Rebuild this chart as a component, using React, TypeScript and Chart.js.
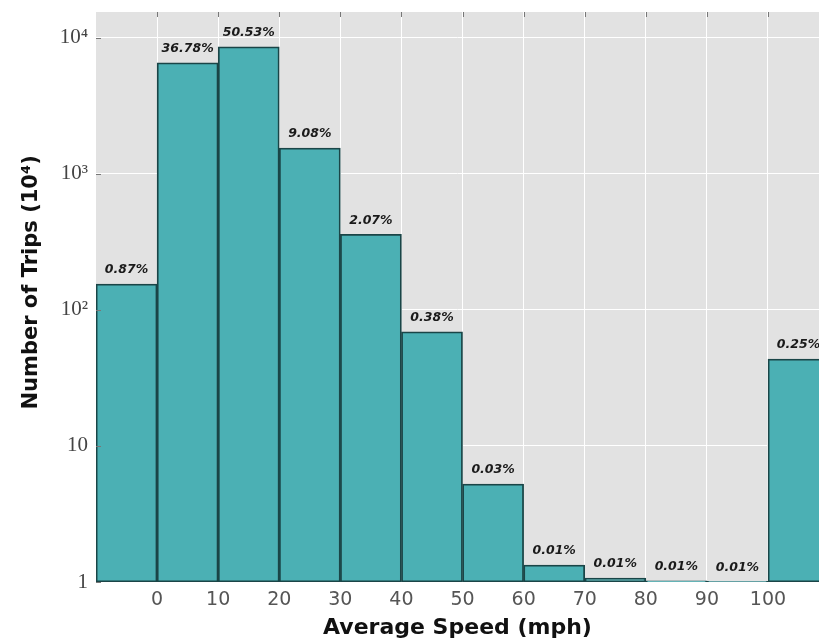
import React, { useEffect, useRef } from "react";
import { Chart, registerables } from "chart.js";

Chart.register(...registerables);

const speedBinCenters = [-5, 5, 15, 25, 35, 45, 55, 65, 75, 85, 95, 105];
const tripCounts = [155, 6550, 8590, 1550, 360, 69, 5.25, 1.33, 1.07, 1.02, 1.01, 43.6];
const percentLabels = ["0.87%", "36.78%", "50.53%", "9.08%", "2.07%", "0.38%", "0.03%", "0.01%", "0.01%", "0.01%", "0.01%", "0.25%"];
const xTickValues = [0, 10, 20, 30, 40, 50, 60, 70, 80, 90, 100];
const yTickValues = [1, 10, 100, 1000, 10000];
const yTickLabels = ["1", "10", "10²", "10³", "10⁴"];

const bgPlugin = {
  id: "bgPlugin",
  beforeDraw(chart: any) {
    const { ctx, chartArea } = chart;
    ctx.save();
    ctx.fillStyle = "#e2e2e2";
    ctx.fillRect(chartArea.left, chartArea.top, chartArea.right - chartArea.left, chartArea.bottom - chartArea.top);
    ctx.restore();
  },
  afterDatasetsDraw(chart: any) {
    const { ctx, chartArea } = chart;
    const meta = chart.getDatasetMeta(0);
    ctx.save();
    ctx.font = "italic bold 12.5px 'DejaVu Sans'";
    ctx.fillStyle = "#1a1a1a";
    ctx.textAlign = "center";
    ctx.textBaseline = "middle";
    meta.data.forEach((el: any, i: number) => {
      ctx.fillText(percentLabels[i], el.x, el.y - 14);
    });
    ctx.strokeStyle = "#777";
    ctx.lineWidth = 1;
    const xs = chart.scales.x;
    const ys = chart.scales.y;
    xTickValues.forEach((v) => {
      const px = Math.round(xs.getPixelForValue(v)) + 0.5;
      ctx.beginPath();
      ctx.moveTo(px, chartArea.top);
      ctx.lineTo(px, chartArea.top + 5);
      ctx.stroke();
    });
    yTickValues.forEach((v) => {
      const py = Math.round(ys.getPixelForValue(v)) + 0.5;
      ctx.beginPath();
      ctx.moveTo(chartArea.left, py);
      ctx.lineTo(chartArea.left + 5, py);
      ctx.stroke();
    });
    ctx.restore();
  },
};

export default function App() {
  const ref = useRef<HTMLCanvasElement>(null);
  useEffect(() => {
    if (!ref.current) return;
    const chart = new Chart(ref.current, {
      type: "bar",
      data: {
        datasets: [
          {
            data: speedBinCenters.map((x, i) => ({ x, y: tripCounts[i] })),
            backgroundColor: "#4bb0b4",
            borderColor: "#1a4547",
            borderWidth: 1.8,
            borderSkipped: false,
            barPercentage: 1,
            categoryPercentage: 1,
          } as any,
        ],
      },
      options: {
        animation: false,
        responsive: false,
        devicePixelRatio: 1,
        layout: { padding: { top: 12, left: 0, right: 0, bottom: 0 } },
        plugins: { legend: { display: false }, tooltip: { enabled: false } },
        scales: {
          x: {
            type: "linear",
            offset: false,
            min: -10,
            max: 108.35,
            afterFit(scale: any) {
              scale.height = 59;
              scale.paddingLeft = 0;
              scale.paddingRight = 0;
            },
            afterBuildTicks(scale: any) {
              scale.ticks = xTickValues.map((v) => ({ value: v }));
            },
            grid: { color: "#ffffff", lineWidth: 1, drawTicks: false, offset: false },
            border: { display: false },
            ticks: {
              padding: 7,
              color: "#555",
              font: { family: "'DejaVu Sans'", size: 19 },
              maxRotation: 0,
              autoSkip: false,
              callback: (v: any) => String(v),
            },
            title: {
              display: true,
              text: "Average Speed (mph)",
              color: "#111",
              font: { family: "'DejaVu Sans'", size: 22, weight: "bold" },
              padding: { top: 0, bottom: 0 },
            },
          },
          y: {
            type: "logarithmic",
            min: 1,
            max: 15500,
            afterFit(scale: any) {
              scale.width = 96;
              scale.paddingTop = 0;
              scale.paddingBottom = 0;
            },
            afterBuildTicks(scale: any) {
              scale.ticks = yTickValues.map((v) => ({ value: v }));
            },
            grid: { color: "#ffffff", lineWidth: 1, drawTicks: false },
            border: { display: false },
            ticks: {
              padding: 8,
              color: "#444",
              font: { family: "'Liberation Serif'", size: 21 },
              autoSkip: false,
              callback: (v: any) => {
                const idx = yTickValues.indexOf(Number(v));
                return idx >= 0 ? yTickLabels[idx] : "";
              },
            },
            title: {
              display: true,
              text: "    Number of Trips (10⁴)",
              color: "#111",
              font: { family: "'DejaVu Sans'", size: 21, weight: "bold" },
              padding: { top: 19, bottom: 0 },
            },
          },
        },
      },
      plugins: [bgPlugin],
    });
    return () => chart.destroy();
  }, []);
  return (
    <div style={{ position: "fixed", left: 0, top: 0, width: 819, height: 641, background: "#fff" }}>
      <canvas ref={ref} width={819} height={641} style={{ width: 819, height: 641 }} />
    </div>
  );
}
